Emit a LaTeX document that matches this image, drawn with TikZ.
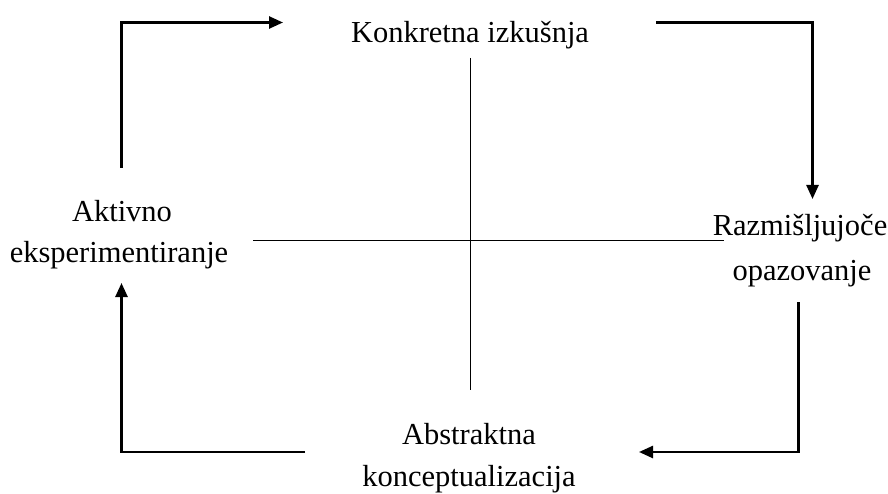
\documentclass[tikz,border=0pt]{standalone}
\usepackage{fontspec}
\setmainfont{Liberation Serif}
\usetikzlibrary{arrows.meta}
\tikzset{
  lbl/.style={font=\fontsize{30.5}{42}\selectfont, inner sep=0pt, anchor=base},
  flow/.style={line width=2.5pt, -{Triangle[length=14pt,width=12pt]}},
  axis/.style={line width=0.9pt}
}
\begin{document}
\begin{tikzpicture}[x=1pt,y=-1pt]
\useasboundingbox (0,0) rectangle (888,494);
\node[lbl] (K) at (470,43) {Konkretna izkušnja};
\node[lbl] (A1) at (122,222) {Aktivno};
\node[lbl] (A2) at (119,262) {eksperimentiranje};
\node[lbl] (R1) at (800,236) {Razmišljujoče};
\node[lbl] (R2) at (802,280) {opazovanje};
\node[lbl] (B1) at (469,444) {Abstraktna};
\node[lbl] (B2) at (469,486) {konceptualizacija};
% axes
\coordinate (vt) at (470,58);
\coordinate (vb) at (470,390);
\coordinate (hl) at (253,240);
\coordinate (hr) at (724,240);
\draw[axis] (vt) -- (vb);
\draw[axis] (hl) -- (hr);
% cycle arrows
\coordinate (s1) at (121.5,168);
\coordinate (e1) at (283,22.5);
\coordinate (s2) at (656,22.5);
\coordinate (e2) at (812.5,199);
\coordinate (s3) at (798.5,302);
\coordinate (e3) at (639,452);
\coordinate (s4) at (305,452);
\coordinate (e4) at (121.5,283);
\draw[flow] (s1) |- (e1);
\draw[flow] (s2) -| (e2);
\draw[flow] (s3) |- (e3);
\draw[flow] (s4) -| (e4);
\end{tikzpicture}
\end{document}
